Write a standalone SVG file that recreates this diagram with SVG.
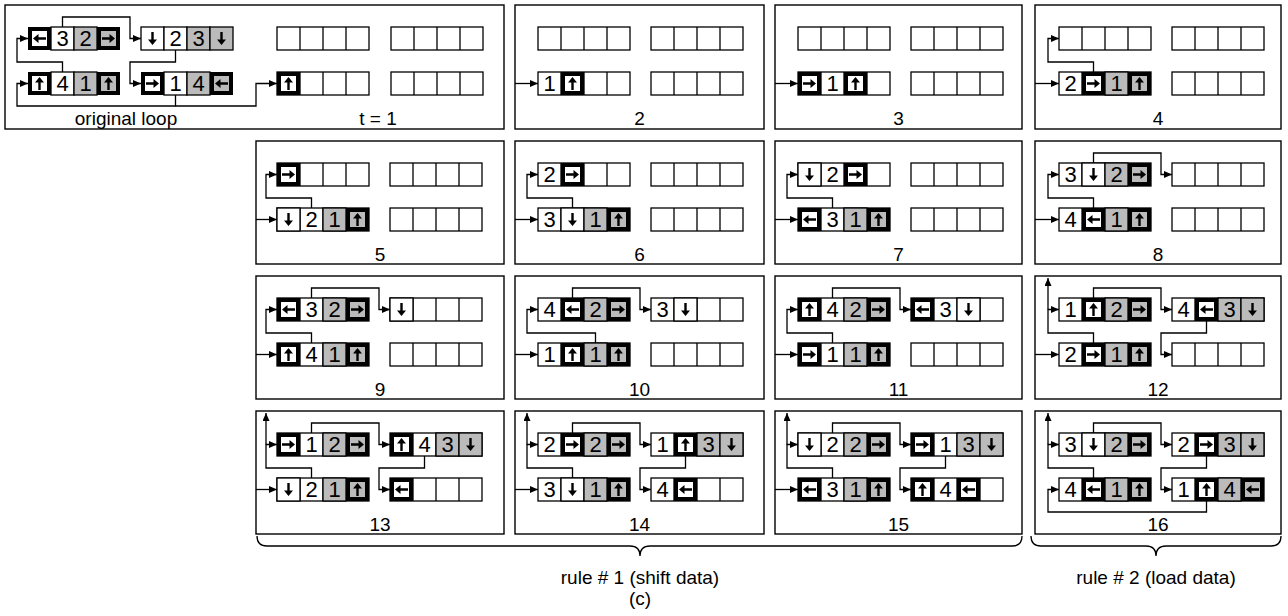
<svg xmlns="http://www.w3.org/2000/svg" xmlns:xlink="http://www.w3.org/1999/xlink" width="1288" height="616" viewBox="0 0 1288 616">
<style>
.pf{fill:#fff;stroke:#000;stroke-width:1.4}
.c{fill:#fff;stroke:#000;stroke-width:1.3}
.g{fill:#bbbbbb;stroke:#000;stroke-width:1.3}
.cn path{fill:none;stroke:#000;stroke-width:1.3;marker-end:url(#ah)}
text{font-family:"Liberation Sans",Arial,Helvetica,sans-serif;text-anchor:middle;fill:#000}
text.d{font-size:22px}
text.l{font-size:19px}
.br{fill:none;stroke:#000;stroke-width:1.3}
</style>
<defs>
<marker id="ah" viewBox="0 0 8 7" refX="8" refY="3.5" markerWidth="8" markerHeight="7" markerUnits="userSpaceOnUse" orient="auto"><path d="M0,0L8,3.5L0,7z" fill="#000"/></marker>
<path id="ar" d="M0,-6.5L4.5,-1L1.2,-1L1.2,6.5L-1.2,6.5L-1.2,-1L-4.5,-1Z" fill="#000"/>
<g id="E"><rect width="23" height="23" class="c"/></g>
<g id="G"><rect width="23" height="23" class="g"/></g>
<g id="Bw"><rect width="23" height="23" fill="#000"/><rect x="4" y="4" width="15" height="15" fill="#fff"/></g>
<g id="Bg"><rect width="23" height="23" fill="#000"/><rect x="4" y="4" width="15" height="15" fill="#bbbbbb"/></g>
<g id="bU"><use href="#Bw"/><use href="#ar" transform="translate(11.5,11.5)"/></g>
<g id="bL"><use href="#Bw"/><use href="#ar" transform="translate(11.5,11.5) rotate(-90)"/></g>
<g id="bR"><use href="#Bw"/><use href="#ar" transform="translate(11.5,11.5) rotate(90)"/></g>
<g id="kU"><use href="#Bg"/><use href="#ar" transform="translate(11.5,11.5)"/></g>
<g id="kL"><use href="#Bg"/><use href="#ar" transform="translate(11.5,11.5) rotate(-90)"/></g>
<g id="kR"><use href="#Bg"/><use href="#ar" transform="translate(11.5,11.5) rotate(90)"/></g>
<g id="wD"><use href="#E"/><use href="#ar" transform="translate(11.5,11.5) rotate(180)"/></g>
<g id="hD"><use href="#G"/><use href="#ar" transform="translate(11.5,11.5) rotate(180)"/></g>
<g id="r4"><rect width="92" height="23" class="c"/><path d="M23,0V23M46,0V23M69,0V23" stroke="#000" stroke-width="1.3"/></g>
</defs>
<rect width="1288" height="616" fill="#fff"/>

<g id="p1" transform="translate(28,5)">
<rect class="pf" x="-23" y="0" width="499" height="124"/>
<use href="#bL" y="22"/><use href="#E" x="23" y="22"/><text class="d" x="34.5" y="41.4">3</text><use href="#G" x="46" y="22"/><text class="d" x="57.5" y="41.4">2</text><use href="#kR" x="69" y="22"/>
<use href="#wD" x="113" y="22"/><use href="#E" x="136" y="22"/><text class="d" x="147.5" y="41.4">2</text><use href="#G" x="159" y="22"/><text class="d" x="170.5" y="41.4">3</text><use href="#hD" x="182" y="22"/>
<use href="#bU" y="67"/><use href="#E" x="23" y="67"/><text class="d" x="34.5" y="86.4">4</text><use href="#G" x="46" y="67"/><text class="d" x="57.5" y="86.4">1</text><use href="#kU" x="69" y="67"/>
<use href="#bR" x="113" y="67"/><use href="#E" x="136" y="67"/><text class="d" x="147.5" y="86.4">1</text><use href="#G" x="159" y="67"/><text class="d" x="170.5" y="86.4">4</text><use href="#kL" x="182" y="67"/>
<use href="#r4" x="249" y="22"/><use href="#r4" x="363" y="22"/><use href="#r4" x="249" y="67"/><use href="#bU" x="249" y="67"/><use href="#r4" x="363" y="67"/>
<text class="l" x="98" y="119.7">original loop</text><text class="l" x="350" y="119.7">t = 1</text>
</g>

<g id="p2" transform="translate(538,5)">
<rect class="pf" x="-23" y="0" width="249" height="124"/>
<use href="#r4" y="22"/><use href="#r4" x="113" y="22"/>
<use href="#r4" y="67"/><text class="d" x="11.5" y="86.4">1</text><use href="#bU" x="23" y="67"/>
<use href="#r4" x="113" y="67"/>
<text class="l" x="101.5" y="119.7">2</text>
</g>

<g id="p3" transform="translate(798,5)">
<rect class="pf" x="-23" y="0" width="247" height="124"/>
<use href="#r4" y="22"/><use href="#r4" x="113" y="22"/>
<use href="#r4" y="67"/><use href="#bR" y="67"/><text class="d" x="34.5" y="86.4">1</text><use href="#bU" x="46" y="67"/>
<use href="#r4" x="113" y="67"/>
<text class="l" x="100.5" y="119.7">3</text>
</g>

<g id="p4" transform="translate(1059,5)">
<rect class="pf" x="-24" y="0" width="246" height="124"/>
<use href="#r4" y="22"/><use href="#r4" x="113" y="22"/>
<use href="#r4" y="67"/><text class="d" x="11.5" y="86.4">2</text><use href="#bR" x="23" y="67"/><use href="#G" x="46" y="67"/><text class="d" x="57.5" y="86.4">1</text><use href="#kU" x="69" y="67"/>
<use href="#r4" x="113" y="67"/>
<text class="l" x="99" y="119.7">4</text>
</g>

<g id="p5" transform="translate(277,141)">
<rect class="pf" x="-21" y="0" width="248" height="123"/>
<use href="#r4" y="22"/><use href="#bR" y="22"/><use href="#r4" x="113" y="22"/>
<use href="#r4" y="67"/><use href="#wD" y="67"/><text class="d" x="34.5" y="86.4">2</text><use href="#G" x="46" y="67"/><text class="d" x="57.5" y="86.4">1</text><use href="#kU" x="69" y="67"/>
<use href="#r4" x="113" y="67"/>
<text class="l" x="103" y="119.7">5</text>
</g>

<g id="p6" transform="translate(538,141)">
<rect class="pf" x="-23" y="0" width="249" height="123"/>
<use href="#r4" y="22"/><text class="d" x="11.5" y="41.4">2</text><use href="#bR" x="23" y="22"/><use href="#r4" x="113" y="22"/>
<use href="#r4" y="67"/><text class="d" x="11.5" y="86.4">3</text><use href="#wD" x="23" y="67"/><use href="#G" x="46" y="67"/><text class="d" x="57.5" y="86.4">1</text><use href="#kU" x="69" y="67"/>
<use href="#r4" x="113" y="67"/>
<text class="l" x="101.5" y="119.7">6</text>
</g>

<g id="p7" transform="translate(798,141)">
<rect class="pf" x="-23" y="0" width="247" height="123"/>
<use href="#r4" y="22"/><use href="#wD" y="22"/><text class="d" x="34.5" y="41.4">2</text><use href="#bR" x="46" y="22"/><use href="#r4" x="113" y="22"/>
<use href="#r4" y="67"/><use href="#bL" y="67"/><text class="d" x="34.5" y="86.4">3</text><use href="#G" x="46" y="67"/><text class="d" x="57.5" y="86.4">1</text><use href="#kU" x="69" y="67"/>
<use href="#r4" x="113" y="67"/>
<text class="l" x="100.5" y="119.7">7</text>
</g>

<g id="p8" transform="translate(1059,141)">
<rect class="pf" x="-24" y="0" width="246" height="123"/>
<use href="#r4" y="22"/><text class="d" x="11.5" y="41.4">3</text><use href="#wD" x="23" y="22"/><use href="#G" x="46" y="22"/><text class="d" x="57.5" y="41.4">2</text><use href="#kR" x="69" y="22"/>
<use href="#r4" x="113" y="22"/>
<use href="#r4" y="67"/><text class="d" x="11.5" y="86.4">4</text><use href="#bL" x="23" y="67"/><use href="#G" x="46" y="67"/><text class="d" x="57.5" y="86.4">1</text><use href="#kU" x="69" y="67"/>
<use href="#r4" x="113" y="67"/>
<text class="l" x="99" y="119.7">8</text>
</g>

<g id="p9" transform="translate(277,276)">
<rect class="pf" x="-21" y="0" width="248" height="123"/>
<use href="#r4" y="22"/><use href="#bL" y="22"/><text class="d" x="34.5" y="41.4">3</text><use href="#G" x="46" y="22"/><text class="d" x="57.5" y="41.4">2</text><use href="#kR" x="69" y="22"/>
<use href="#r4" x="113" y="22"/><use href="#wD" x="113" y="22"/>
<use href="#r4" y="67"/><use href="#bU" y="67"/><text class="d" x="34.5" y="86.4">4</text><use href="#G" x="46" y="67"/><text class="d" x="57.5" y="86.4">1</text><use href="#kU" x="69" y="67"/>
<use href="#r4" x="113" y="67"/>
<text class="l" x="103" y="119.7">9</text>
</g>

<g id="p10" transform="translate(538,276)">
<rect class="pf" x="-23" y="0" width="249" height="123"/>
<use href="#r4" y="22"/><text class="d" x="11.5" y="41.4">4</text><use href="#bL" x="23" y="22"/><use href="#G" x="46" y="22"/><text class="d" x="57.5" y="41.4">2</text><use href="#kR" x="69" y="22"/>
<use href="#r4" x="113" y="22"/><text class="d" x="124.5" y="41.4">3</text><use href="#wD" x="136" y="22"/>
<use href="#r4" y="67"/><text class="d" x="11.5" y="86.4">1</text><use href="#bU" x="23" y="67"/><use href="#G" x="46" y="67"/><text class="d" x="57.5" y="86.4">1</text><use href="#kU" x="69" y="67"/>
<use href="#r4" x="113" y="67"/>
<text class="l" x="101.5" y="119.7">10</text>
</g>

<g id="p11" transform="translate(798,276)">
<rect class="pf" x="-23" y="0" width="247" height="123"/>
<use href="#r4" y="22"/><use href="#bU" y="22"/><text class="d" x="34.5" y="41.4">4</text><use href="#G" x="46" y="22"/><text class="d" x="57.5" y="41.4">2</text><use href="#kR" x="69" y="22"/>
<use href="#r4" x="113" y="22"/><use href="#bL" x="113" y="22"/><text class="d" x="147.5" y="41.4">3</text><use href="#wD" x="159" y="22"/>
<use href="#r4" y="67"/><use href="#bR" y="67"/><text class="d" x="34.5" y="86.4">1</text><use href="#G" x="46" y="67"/><text class="d" x="57.5" y="86.4">1</text><use href="#kU" x="69" y="67"/>
<use href="#r4" x="113" y="67"/>
<text class="l" x="100.5" y="119.7">11</text>
</g>

<g id="p12" transform="translate(1059,276)">
<rect class="pf" x="-24" y="0" width="246" height="123"/>
<use href="#r4" y="22"/><text class="d" x="11.5" y="41.4">1</text><use href="#bU" x="23" y="22"/><use href="#G" x="46" y="22"/><text class="d" x="57.5" y="41.4">2</text><use href="#kR" x="69" y="22"/>
<use href="#r4" x="113" y="22"/><text class="d" x="124.5" y="41.4">4</text><use href="#bL" x="136" y="22"/><use href="#G" x="159" y="22"/><text class="d" x="170.5" y="41.4">3</text><use href="#hD" x="182" y="22"/>
<use href="#r4" y="67"/><text class="d" x="11.5" y="86.4">2</text><use href="#bR" x="23" y="67"/><use href="#G" x="46" y="67"/><text class="d" x="57.5" y="86.4">1</text><use href="#kU" x="69" y="67"/>
<use href="#r4" x="113" y="67"/>
<text class="l" x="99" y="119.7">12</text>
</g>

<g id="p13" transform="translate(277,411)">
<rect class="pf" x="-21" y="0" width="248" height="123"/>
<use href="#r4" y="22"/><use href="#bR" y="22"/><text class="d" x="34.5" y="41.4">1</text><use href="#G" x="46" y="22"/><text class="d" x="57.5" y="41.4">2</text><use href="#kR" x="69" y="22"/>
<use href="#r4" x="113" y="22"/><use href="#bU" x="113" y="22"/><text class="d" x="147.5" y="41.4">4</text><use href="#G" x="159" y="22"/><text class="d" x="170.5" y="41.4">3</text><use href="#hD" x="182" y="22"/>
<use href="#r4" y="67"/><use href="#wD" y="67"/><text class="d" x="34.5" y="86.4">2</text><use href="#G" x="46" y="67"/><text class="d" x="57.5" y="86.4">1</text><use href="#kU" x="69" y="67"/>
<use href="#r4" x="113" y="67"/><use href="#bL" x="113" y="67"/>
<text class="l" x="103" y="119.7">13</text>
</g>

<g id="p14" transform="translate(538,411)">
<rect class="pf" x="-23" y="0" width="249" height="123"/>
<use href="#r4" y="22"/><text class="d" x="11.5" y="41.4">2</text><use href="#bR" x="23" y="22"/><use href="#G" x="46" y="22"/><text class="d" x="57.5" y="41.4">2</text><use href="#kR" x="69" y="22"/>
<use href="#r4" x="113" y="22"/><text class="d" x="124.5" y="41.4">1</text><use href="#bU" x="136" y="22"/><use href="#G" x="159" y="22"/><text class="d" x="170.5" y="41.4">3</text><use href="#hD" x="182" y="22"/>
<use href="#r4" y="67"/><text class="d" x="11.5" y="86.4">3</text><use href="#wD" x="23" y="67"/><use href="#G" x="46" y="67"/><text class="d" x="57.5" y="86.4">1</text><use href="#kU" x="69" y="67"/>
<use href="#r4" x="113" y="67"/><text class="d" x="124.5" y="86.4">4</text><use href="#bL" x="136" y="67"/>
<text class="l" x="101.5" y="119.7">14</text>
</g>

<g id="p15" transform="translate(798,411)">
<rect class="pf" x="-23" y="0" width="247" height="123"/>
<use href="#r4" y="22"/><use href="#wD" y="22"/><text class="d" x="34.5" y="41.4">2</text><use href="#G" x="46" y="22"/><text class="d" x="57.5" y="41.4">2</text><use href="#kR" x="69" y="22"/>
<use href="#r4" x="113" y="22"/><use href="#bR" x="113" y="22"/><text class="d" x="147.5" y="41.4">1</text><use href="#G" x="159" y="22"/><text class="d" x="170.5" y="41.4">3</text><use href="#hD" x="182" y="22"/>
<use href="#r4" y="67"/><use href="#bL" y="67"/><text class="d" x="34.5" y="86.4">3</text><use href="#G" x="46" y="67"/><text class="d" x="57.5" y="86.4">1</text><use href="#kU" x="69" y="67"/>
<use href="#r4" x="113" y="67"/><use href="#bU" x="113" y="67"/><text class="d" x="147.5" y="86.4">4</text><use href="#bL" x="159" y="67"/>
<text class="l" x="100.5" y="119.7">15</text>
</g>

<g id="p16" transform="translate(1059,411)">
<rect class="pf" x="-24" y="0" width="246" height="123"/>
<use href="#r4" y="22"/><text class="d" x="11.5" y="41.4">3</text><use href="#wD" x="23" y="22"/><use href="#G" x="46" y="22"/><text class="d" x="57.5" y="41.4">2</text><use href="#kR" x="69" y="22"/>
<use href="#r4" x="113" y="22"/><text class="d" x="124.5" y="41.4">2</text><use href="#bR" x="136" y="22"/><use href="#G" x="159" y="22"/><text class="d" x="170.5" y="41.4">3</text><use href="#hD" x="182" y="22"/>
<use href="#r4" y="67"/><text class="d" x="11.5" y="86.4">4</text><use href="#bL" x="23" y="67"/><use href="#G" x="46" y="67"/><text class="d" x="57.5" y="86.4">1</text><use href="#kU" x="69" y="67"/>
<use href="#r4" x="113" y="67"/><text class="d" x="124.5" y="86.4">1</text><use href="#bU" x="136" y="67"/><use href="#G" x="159" y="67"/><text class="d" x="170.5" y="86.4">4</text><use href="#kL" x="182" y="67"/>
<text class="l" x="99" y="119.7">16</text>
</g>

<g id="connectors" class="cn">
<g transform="translate(28,5)">
<path d="M34.5,22V12H102V33.5H113"/>
<path d="M147.5,45V57H102V78.5H113"/>
<path d="M34.5,67V57H-11V33.5H0"/>
<path d="M147.5,90V101H-11V78.5H0"/>
<path d="M147.5,101H228V78.5H249"/>
</g>
<g transform="translate(538,5)"><path d="M-23,78.5H0"/></g>
<g transform="translate(798,5)"><path d="M-23,78.5H0"/></g>
<g transform="translate(1059,5)"><path d="M-24,78.5H0"/><path d="M34.5,67V57H-11V33.5H0"/></g>
<g transform="translate(277,141)"><path d="M-21,78.5H0"/><path d="M34.5,67V57H-11V33.5H0"/></g>
<g transform="translate(538,141)"><path d="M-23,78.5H0"/><path d="M34.5,67V57H-11V33.5H0"/></g>
<g transform="translate(798,141)"><path d="M-23,78.5H0"/><path d="M34.5,67V57H-11V33.5H0"/></g>
<g transform="translate(1059,141)"><path d="M-24,78.5H0"/><path d="M34.5,67V57H-11V33.5H0"/><path d="M34.5,22V12H102V33.5H113"/></g>
<g transform="translate(277,276)"><path d="M-21,78.5H0"/><path d="M34.5,67V57H-11V33.5H0"/><path d="M34.5,22V12H102V33.5H113"/></g>
<g transform="translate(538,276)"><path d="M-23,78.5H0"/><path d="M57.5,67V57H-11V33.5H0"/><path d="M34.5,22V12H102V33.5H113"/></g>
<g transform="translate(798,276)"><path d="M-23,78.5H0"/><path d="M34.5,67V57H-11V33.5H0"/><path d="M34.5,22V12H102V33.5H113"/></g>
<g transform="translate(1059,276)"><path d="M-24,78.5H0"/><path d="M34.5,67V57H-11V33.5H0"/><path d="M-11,33.5V2"/><path d="M34.5,22V12H102V33.5H113"/><path d="M147.5,45V57H102V78.5H113"/></g>
<g transform="translate(277,411)"><path d="M-21,78.5H0"/><path d="M34.5,67V57H-11V33.5H0"/><path d="M-11,33.5V2"/><path d="M34.5,22V12H102V33.5H113"/><path d="M147.5,45V57H102V78.5H113"/></g>
<g transform="translate(538,411)"><path d="M-23,78.5H0"/><path d="M34.5,67V57H-11V33.5H0"/><path d="M-11,33.5V2"/><path d="M34.5,22V12H102V33.5H113"/><path d="M147.5,45V57H102V78.5H113"/></g>
<g transform="translate(798,411)"><path d="M-23,78.5H0"/><path d="M34.5,67V57H-11V33.5H0"/><path d="M-11,33.5V2"/><path d="M34.5,22V12H102V33.5H113"/><path d="M147.5,45V57H102V78.5H113"/></g>
<g transform="translate(1059,411)"><path d="M34.5,67V57H-11V33.5H0"/><path d="M-11,33.5V2"/><path d="M34.5,22V12H102V33.5H113"/><path d="M147.5,45V57H102V78.5H113"/><path d="M147.5,90V101H-11V78.5H0"/></g>
</g>

<g id="braces">
<path class="br" d="M257,536Q257,546 267,546H630Q640,546 640,556Q640,546 650,546H1012Q1022,546 1022,536"/>
<path class="br" d="M1031,536Q1031,546 1041,546H1146Q1156,546 1156,556Q1156,546 1166,546H1271Q1281,546 1281,536"/>
<text class="l" x="640" y="584">rule # 1 (shift data)</text>
<text class="l" x="1156" y="584">rule # 2 (load data)</text>
<text class="l" x="640" y="605">(c)</text>
</g>
</svg>
